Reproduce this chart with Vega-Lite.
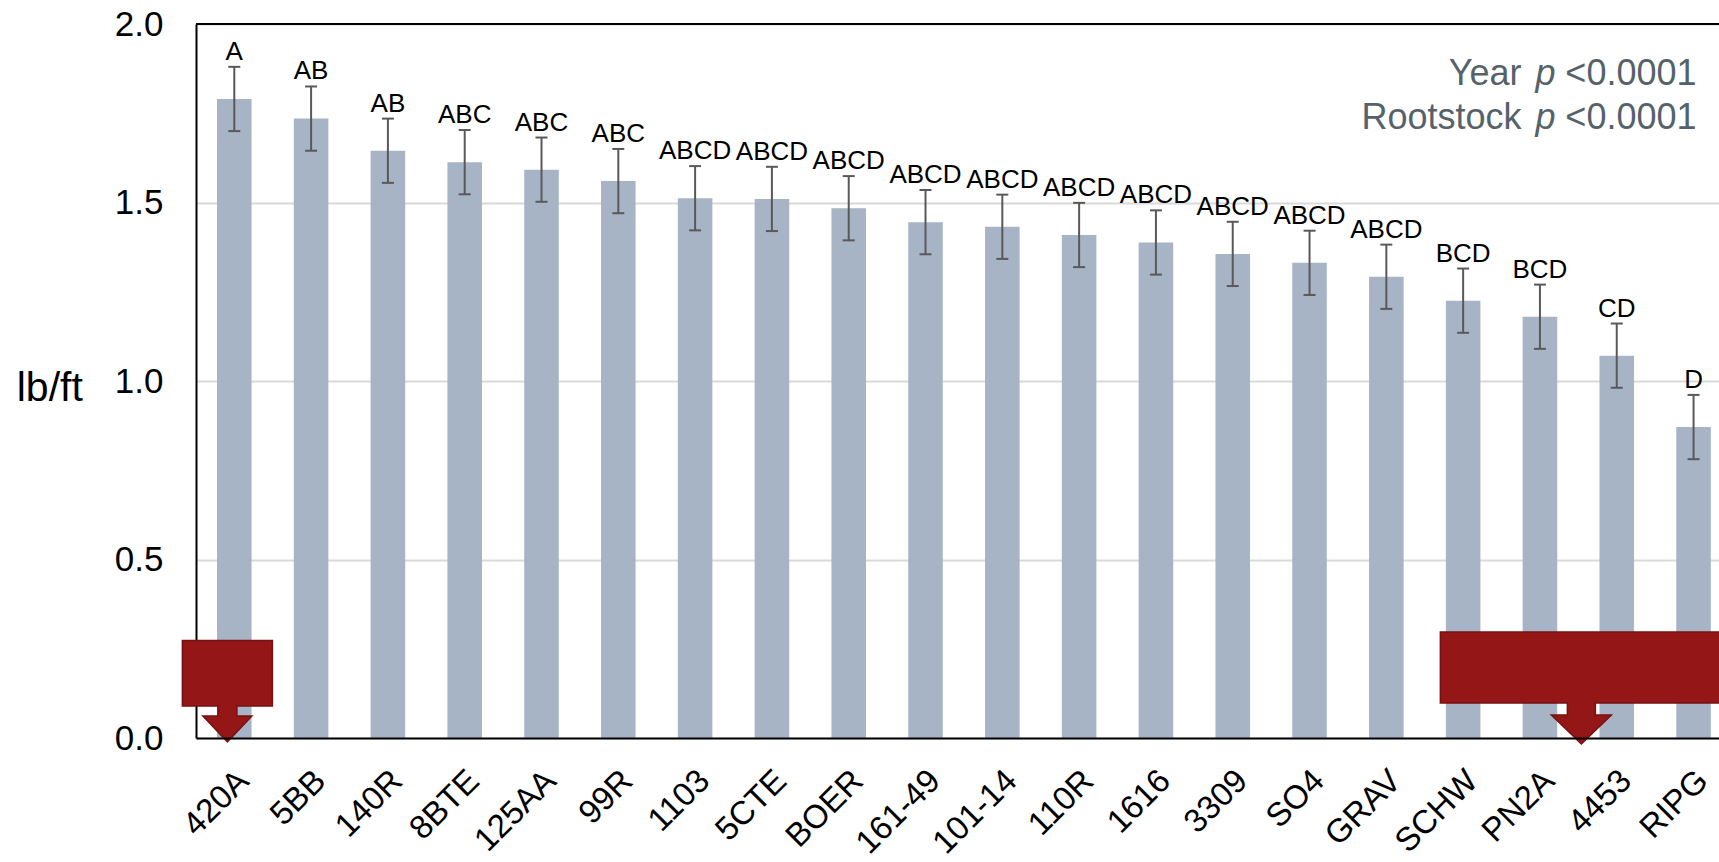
{
  "$schema": "https://vega.github.io/schema/vega-lite/v6.json",
  "width": 1523,
  "height": 714,
  "autosize": {"type": "none"},
  "padding": {"left": 196, "top": 24, "right": 0, "bottom": 124},
  "background": "white",
  "config": {
    "view": {"stroke": null},
    "font": "Liberation Sans",
    "text": {"font": "Liberation Sans"}
  },
  "datasets": {
    "bars": [
      {"rootstock": "420A", "mean": 1.79, "lo": 1.70, "hi": 1.88, "letters": "A"},
      {"rootstock": "5BB", "mean": 1.735, "lo": 1.645, "hi": 1.825, "letters": "AB"},
      {"rootstock": "140R", "mean": 1.645, "lo": 1.555, "hi": 1.735, "letters": "AB"},
      {"rootstock": "8BTE", "mean": 1.613, "lo": 1.523, "hi": 1.703, "letters": "ABC"},
      {"rootstock": "125AA", "mean": 1.592, "lo": 1.502, "hi": 1.682, "letters": "ABC"},
      {"rootstock": "99R", "mean": 1.56, "lo": 1.47, "hi": 1.65, "letters": "ABC"},
      {"rootstock": "1103", "mean": 1.512, "lo": 1.422, "hi": 1.602, "letters": "ABCD"},
      {"rootstock": "5CTE", "mean": 1.51, "lo": 1.42, "hi": 1.60, "letters": "ABCD"},
      {"rootstock": "BOER", "mean": 1.484, "lo": 1.394, "hi": 1.574, "letters": "ABCD"},
      {"rootstock": "161-49", "mean": 1.445, "lo": 1.355, "hi": 1.535, "letters": "ABCD"},
      {"rootstock": "101-14", "mean": 1.432, "lo": 1.342, "hi": 1.522, "letters": "ABCD"},
      {"rootstock": "110R", "mean": 1.409, "lo": 1.319, "hi": 1.499, "letters": "ABCD"},
      {"rootstock": "1616", "mean": 1.388, "lo": 1.298, "hi": 1.478, "letters": "ABCD"},
      {"rootstock": "3309", "mean": 1.356, "lo": 1.266, "hi": 1.446, "letters": "ABCD"},
      {"rootstock": "SO4", "mean": 1.331, "lo": 1.241, "hi": 1.421, "letters": "ABCD"},
      {"rootstock": "GRAV", "mean": 1.292, "lo": 1.202, "hi": 1.382, "letters": "ABCD"},
      {"rootstock": "SCHW", "mean": 1.225, "lo": 1.135, "hi": 1.315, "letters": "BCD"},
      {"rootstock": "PN2A", "mean": 1.18, "lo": 1.09, "hi": 1.27, "letters": "BCD"},
      {"rootstock": "4453", "mean": 1.071, "lo": 0.981, "hi": 1.161, "letters": "CD"},
      {"rootstock": "RIPG", "mean": 0.871, "lo": 0.781, "hi": 0.961, "letters": "D"}
    ],
    "arrows": [
      {"i": -0.09, "y": 0, "arrow": "left"},
      {"i": 17.54, "y": 0, "arrow": "right"}
    ],
    "notes": [
      {"line": "Year", "y": 1.828},
      {"line": "Rootstock", "y": 1.705}
    ],
    "frame": [{"top": 2}]
  },
  "layer": [
    {
      "data": {"name": "bars"},
      "layer": [
        {
          "mark": {"type": "bar", "color": "#a6b4c5"},
          "encoding": {
            "x": {
              "field": "rootstock", "type": "nominal", "sort": null,
              "scale": {
                "type": "band",
                "domain": ["420A","5BB","140R","8BTE","125AA","99R","1103","5CTE","BOER","161-49","101-14","110R","1616","3309","SO4","GRAV","SCHW","PN2A","4453","RIPG"],
                "paddingInner": 0.55, "paddingOuter": 0.19, "align": 0.72, "round": false
              },
              "axis": {
                "title": null, "labelAngle": -45, "labelAlign": "right", "labelBaseline": "top",
                "labelFontSize": 33, "labelFont": "Liberation Sans", "labelColor": "black",
                "labelPadding": 26, "labelOffset": -2, "ticks": false, "tickSize": 0,
                "domainColor": "black", "domainWidth": 2, "grid": false,
                "labelOverlap": false, "labelBound": false, "zindex": 1
              }
            },
            "y": {
              "field": "mean", "type": "quantitative",
              "scale": {"domain": [0, 2], "nice": false, "zero": true},
              "axis": {
                "title": "lb/ft", "titleAngle": 0, "titleAlign": "right", "titleBaseline": "middle",
                "titleFontSize": 41, "titleFont": "Liberation Sans", "titleFontWeight": "normal",
                "titleColor": "black", "titlePadding": 32, "titleY": 364,
                "labelFontSize": 35, "labelFont": "Liberation Sans", "labelColor": "black",
                "labelPadding": 33, "ticks": false, "tickSize": 0,
                "domainColor": "black", "domainWidth": 2,
                "gridColor": "#d9d9d9", "gridWidth": 2,
                "values": [0, 0.5, 1, 1.5, 2], "format": ".1f", "zindex": 0
              }
            }
          }
        },
        {
          "mark": {"type": "rule", "color": "#595959", "strokeWidth": 2},
          "encoding": {
            "x": {"field": "rootstock", "type": "nominal", "sort": null},
            "y": {"field": "lo", "type": "quantitative"},
            "y2": {"field": "hi"}
          }
        },
        {
          "mark": {"type": "tick", "color": "#595959", "size": 12, "thickness": 2, "opacity": 1},
          "encoding": {
            "x": {"field": "rootstock", "type": "nominal", "sort": null},
            "y": {"field": "lo", "type": "quantitative"}
          }
        },
        {
          "mark": {"type": "tick", "color": "#595959", "size": 12, "thickness": 2, "opacity": 1},
          "encoding": {
            "x": {"field": "rootstock", "type": "nominal", "sort": null},
            "y": {"field": "hi", "type": "quantitative"}
          }
        },
        {
          "mark": {"type": "text", "fontSize": 26, "color": "black", "align": "center", "baseline": "alphabetic", "dy": -7, "font": "Liberation Sans"},
          "encoding": {
            "x": {"field": "rootstock", "type": "nominal", "sort": null},
            "y": {"field": "hi", "type": "quantitative"},
            "text": {"field": "letters"}
          }
        }
      ]
    },
    {
      "layer": [
        {
          "data": {"name": "frame"},
          "mark": {"type": "rule", "color": "black", "strokeWidth": 2},
          "encoding": {
            "y": {"field": "top", "type": "quantitative"}
          }
        },
        {
          "data": {"name": "arrows"},
          "mark": {"type": "point", "size": 4, "filled": true, "fill": "#941616", "stroke": "#771111", "strokeWidth": 1.5, "opacity": 1, "fillOpacity": 1, "strokeOpacity": 1},
          "encoding": {
            "x": {"field": "i", "type": "quantitative", "scale": {"domain": [-0.4986, 19.332], "nice": false, "zero": false}, "axis": null},
            "y": {"field": "y", "type": "quantitative"},
            "shape": {
              "field": "arrow", "type": "nominal", "legend": null,
              "scale": {
                "domain": ["left", "right"],
                "range": [
                  "M-45,-97.5H45V-32H9.5V-22H24.5L0,4L-24.5,-22H-9.5V-32H-45Z",
                  "M-141,-106H141V-35H14V-23H30L0,6L-30,-23H-14V-35H-141Z"
                ]
              }
            }
          }
        },
        {
          "data": {"name": "notes"},
          "mark": {"type": "text", "fontSize": 36, "color": "#56626a", "align": "right", "baseline": "alphabetic", "dx": -172, "font": "Liberation Sans"},
          "encoding": {
            "x": {"datum": 19, "type": "quantitative", "scale": {"domain": [-0.4986, 19.332], "nice": false, "zero": false}, "axis": null},
            "y": {"field": "y", "type": "quantitative"},
            "text": {"field": "line"}
          }
        },
        {
          "data": {"name": "notes"},
          "mark": {"type": "text", "fontSize": 36, "color": "#56626a", "align": "right", "baseline": "alphabetic", "dx": -138, "fontStyle": "italic", "font": "Liberation Sans", "text": "p"},
          "encoding": {
            "x": {"datum": 19, "type": "quantitative", "scale": {"domain": [-0.4986, 19.332], "nice": false, "zero": false}, "axis": null},
            "y": {"field": "y", "type": "quantitative"}
          }
        },
        {
          "data": {"name": "notes"},
          "mark": {"type": "text", "fontSize": 36, "color": "#56626a", "align": "right", "baseline": "alphabetic", "dx": 3, "font": "Liberation Sans", "text": "<0.0001"},
          "encoding": {
            "x": {"datum": 19, "type": "quantitative", "scale": {"domain": [-0.4986, 19.332], "nice": false, "zero": false}, "axis": null},
            "y": {"field": "y", "type": "quantitative"}
          }
        }
      ]
    }
  ],
  "resolve": {"scale": {"x": "independent"}}
}
